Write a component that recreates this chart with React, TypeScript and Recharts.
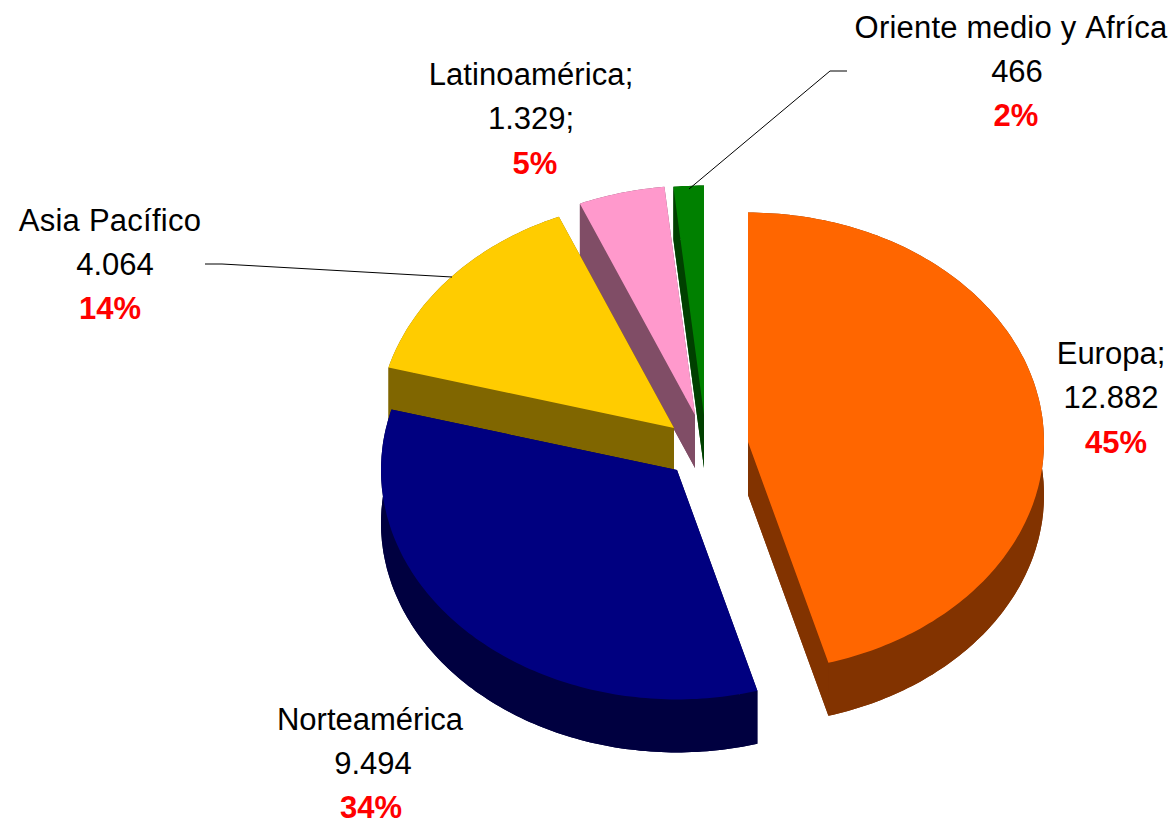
import { PieChart, Pie, Cell } from 'recharts';

const names = ['Europa', 'Norteamérica', 'Asia Pacífico', 'Latinoamérica', 'Oriente medio y África'];
const values = [12882, 9494, 4064, 1329, 466];
const nameLabels = ['Europa;', 'Norteamérica', 'Asia Pacífico', 'Latinoamérica;', 'Oriente medio y Afríca'];
const valueLabels = ['12.882', '9.494', '4.064', '1.329;', '466'];
const percentLabels = ['45%', '34%', '14%', '5%', '2%'];

const topColors = ['#FF6600', '#000080', '#FFCC00', '#FF99CC', '#008000'];
const wallColors = ['#823300', '#000040', '#806600', '#804D66', '#004000'];

// how far each slice is pulled out of the pie
const explodeX = [71, 0, -3, 18, 27];
const explodeY = [-28, 0, -42, -55, -55];

// label placement: centre x and the three baselines
const labelX = [1111, 370, 110, 531, 1011];
const valueX = [1111, 373, 115, 531, 1017];
const percentX = [1116, 371, 110, 535, 1016];
const labelY = [364, 730, 231, 85, 38];
const percentGap = [89, 88, 88, 89, 88];
const spacing = [0, 0, 0.25, 0.1, 0.2];
const leaderLines = ['', '', '205,264 222,264 452,277', '', '689,189 830,71 847,71'];

const rows = names.map((name, i) => ({ name, value: values[i], slice: i }));
const rowsBackToFront = [...rows].reverse();

const TILT = 0.775;
const DEPTH = 53;
const FONT = '"Liberation Sans", Arial, sans-serif';

function arcPoints(p: any) {
  const x0 = p.cx + explodeX[p.slice];
  const y0 = p.cy + explodeY[p.slice];
  const steps = Math.max(2, Math.ceil(Math.abs(p.endAngle - p.startAngle)));
  const pts: [number, number][] = [];
  for (let s = 0; s <= steps; s++) {
    const a = ((p.startAngle + ((p.endAngle - p.startAngle) * s) / steps) * Math.PI) / 180;
    pts.push([x0 + p.outerRadius * Math.cos(a), y0 - p.outerRadius * TILT * Math.sin(a)]);
  }
  return { x0, y0, pts };
}

const toPath = (pts: [number, number][]) =>
  'M' + pts.map(([x, y]) => `${x.toFixed(1)},${y.toFixed(1)}`).join('L') + 'Z';

function TopSlice(p: any) {
  const { x0, y0, pts } = arcPoints(p);
  return <path d={toPath([[x0, y0], ...pts])} fill={topColors[p.slice]} />;
}

function WallSlice(p: any) {
  const { x0, y0, pts } = arcPoints(p);
  const down = (q: [number, number]): [number, number] => [q[0], q[1] + DEPTH];
  const fill = wallColors[p.slice];
  const first = pts[0];
  const last = pts[pts.length - 1];
  const paths = [
    toPath([[x0, y0 + DEPTH], ...pts.map(down)]),
    toPath([...pts, ...[...pts].reverse().map(down)]),
    toPath([[x0, y0], first, down(first), [x0, y0 + DEPTH]]),
    toPath([[x0, y0], last, down(last), [x0, y0 + DEPTH]]),
  ];
  return (
    <g>
      {paths.map((d, i) => (
        <path key={i} d={d} fill={fill} />
      ))}
    </g>
  );
}

function SliceLabel(p: any) {
  const i = p.slice;
  const y = labelY[i];
  return (
    <g fontFamily={FONT} fontSize={31} textAnchor="middle" style={{ fontKerning: 'none' }}>
      {leaderLines[i] && <polyline points={leaderLines[i]} fill="none" stroke="#000" strokeWidth={1} />}
      <text x={labelX[i]} y={y} fill="#000" letterSpacing={spacing[i]}>{nameLabels[i]}</text>
      <text x={valueX[i]} y={y + 44} fill="#000">{valueLabels[i]}</text>
      <text x={percentX[i]} y={y + percentGap[i]} fill="#FF0000" fontWeight="bold">{percentLabels[i]}</text>
    </g>
  );
}

export default function App() {
  return (
    <div style={{ position: 'absolute', left: 0, top: 0, width: 1175, height: 821, background: '#fff' }}>
      <PieChart width={1175} height={821} margin={{ top: 0, right: 0, bottom: 0, left: 0 }}>
        {/* walls first, back slices before front ones, so the tops can sit over them */}
        <Pie
          data={rowsBackToFront}
          dataKey="value"
          cx={677}
          cy={470}
          outerRadius={296}
          startAngle={-270}
          endAngle={90}
          stroke="none"
          shape={WallSlice}
          isAnimationActive={false}
        >
          {rowsBackToFront.map((r) => (
            <Cell key={r.name} fill={wallColors[r.slice]} />
          ))}
        </Pie>
        <Pie
          data={rows}
          dataKey="value"
          cx={677}
          cy={470}
          outerRadius={296}
          startAngle={90}
          endAngle={-270}
          stroke="none"
          shape={TopSlice}
          label={SliceLabel}
          labelLine={false}
          isAnimationActive={false}
        >
          {rows.map((r) => (
            <Cell key={r.name} fill={topColors[r.slice]} />
          ))}
        </Pie>
      </PieChart>
    </div>
  );
}
